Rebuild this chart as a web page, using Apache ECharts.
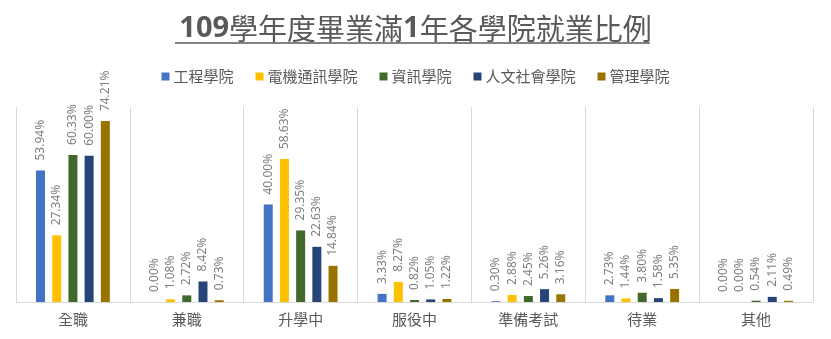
<!DOCTYPE html>
<html><head><meta charset="utf-8">
<script src="https://cdn.jsdelivr.net/npm/echarts@6/dist/echarts.min.js"></script>
<style>html,body{margin:0;padding:0;background:#fff}#c{width:831px;height:339px}</style>
</head><body><div id="c"></div>
<script>
const categories = ['全職','兼職','升學中','服役中','準備考試','待業','其他'];
const seriesNames = ['工程學院','電機通訊學院','資訊學院','人文社會學院','管理學院'];
const engineering = [53.94, 0.00, 40.00, 3.33, 0.30, 2.73, 0.00];
const electrical = [27.34, 1.08, 58.63, 8.27, 2.88, 1.44, 0.00];
const informatics = [60.33, 2.72, 29.35, 0.82, 2.45, 3.80, 0.54];
const humanities = [60.00, 8.42, 22.63, 1.05, 5.26, 1.58, 2.11];
const management = [74.21, 0.73, 14.84, 1.22, 3.16, 5.35, 0.49];
const colors = ['#4472C4','#FFC000','#43682B','#264478','#997300'];
const titleText = '109學年度畢業滿1年各學院就業比例';

const seriesData = [engineering, electrical, informatics, humanities, management];
// title: digits bold, CJK regular
const titleRich = titleText.replace(/(\d+)/g, '{d|$1}').split(/(\{d\|\d+\})/).map(s => s.startsWith('{d|') ? s : (s ? '{c|' + s + '}' : '')).join('');
const chart = echarts.init(document.getElementById('c'));
chart.setOption({
  animation: false,
  title: {
    text: titleRich, left: 'center', top: 9,
    textStyle: {
      fontFamily: '"Noto Sans CJK TC", sans-serif', fontSize: 29, color: '#595959',
      rich: {
        d: {fontFamily: '"Noto Sans", sans-serif', fontSize: 29, fontWeight: 'bold', color: '#595959'},
        c: {fontFamily: '"Noto Sans CJK TC", sans-serif', fontSize: 29, fontWeight: 'normal', color: '#595959'}
      }
    }
  },
  graphic: [{type: 'line', shape: {x1: 175, y1: 43, x2: 650, y2: 43}, style: {stroke: '#595959', lineWidth: 1.5}}],
  legend: {
    top: 64, left: 'center', icon: 'rect', itemWidth: 8, itemHeight: 8, itemGap: 22,
    textStyle: {fontFamily: '"Noto Sans CJK TC", sans-serif', fontSize: 15, color: '#595959', padding: [0,0,0,-1]},
    data: seriesNames
  },
  grid: {left: 16, right: 18, top: 107, bottom: 37},
  xAxis: {
    type: 'category', data: categories,
    axisLine: {lineStyle: {color: '#d9d9d9'}},
    axisTick: {show: false},
    splitLine: {show: true, lineStyle: {color: '#d9d9d9'}},
    axisLabel: {fontFamily: '"Noto Sans CJK TC", sans-serif', fontSize: 15, color: '#595959', margin: 10}
  },
  yAxis: {type: 'value', min: 0, max: 80, show: false, splitLine: {show: false}},
  series: seriesNames.map((n, i) => ({
    name: n, type: 'bar', data: seriesData[i], barWidth: 9, barGap: '80%',
    itemStyle: {color: colors[i]},
    label: {
      show: true, position: 'top', rotate: 90, align: 'left', verticalAlign: 'middle', distance: 10,
      formatter: p => p.value.toFixed(2) + '%',
      fontFamily: '"Noto Sans", sans-serif', fontSize: 12, color: '#7f7f7f'
    }
  }))
});
</script></body></html>
